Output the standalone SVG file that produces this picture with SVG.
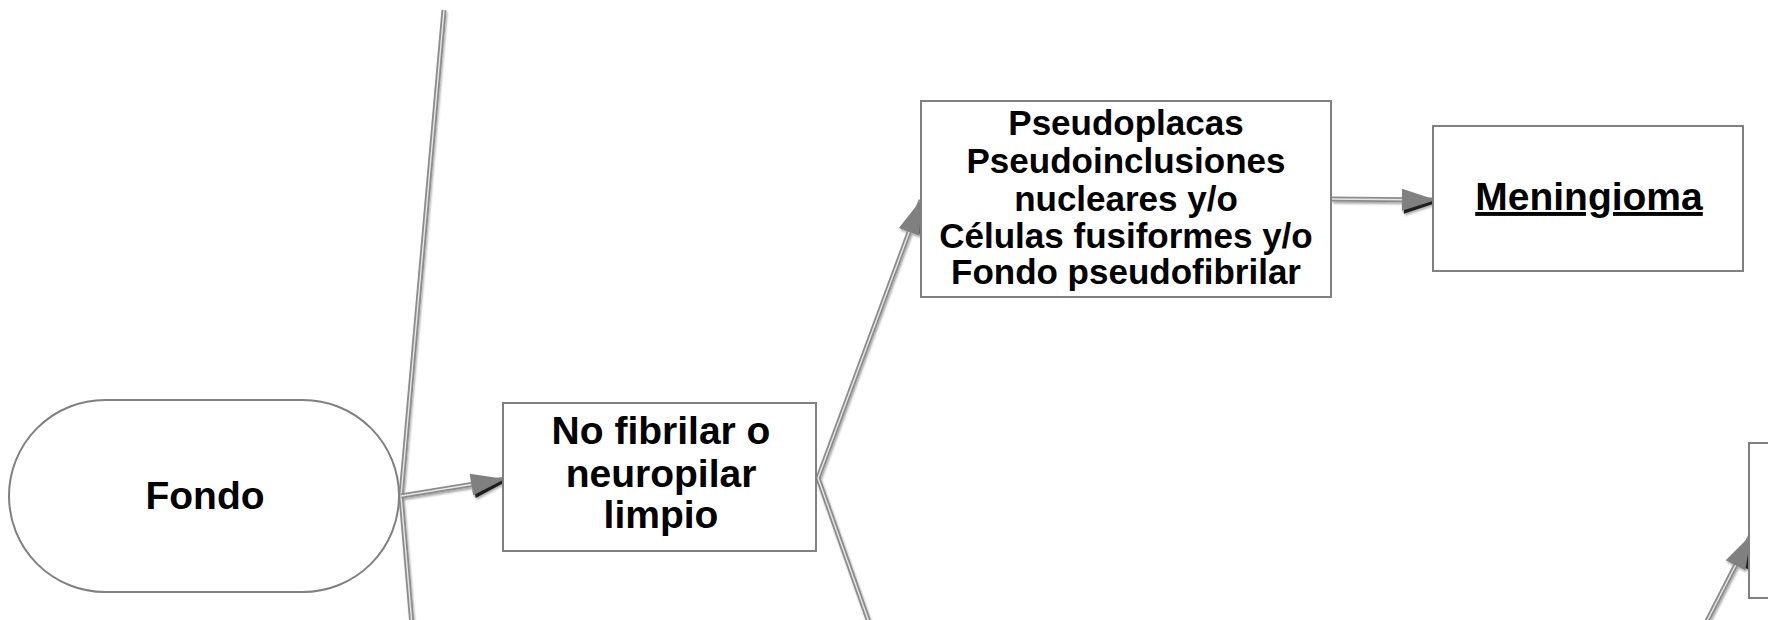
<svg xmlns="http://www.w3.org/2000/svg" width="1768" height="620" viewBox="0 0 1768 620">
<style>
.box{fill:#fff;stroke:#808080;stroke-width:2}
.t{font-family:"Liberation Sans",Arial,sans-serif;font-weight:bold;fill:#000;text-anchor:middle}
.outer{fill:none;stroke:#8c8c8c;stroke-width:5;stroke-linecap:butt}
.inner{fill:none;stroke:#e6e6e6;stroke-width:1.4}
</style>
<defs>
<filter id="sh" x="-20%" y="-20%" width="140%" height="140%">
<feDropShadow dx="1" dy="2" stdDeviation="1.2" flood-color="#000" flood-opacity="0.35"/>
</filter>
<marker id="ah" markerUnits="userSpaceOnUse" markerWidth="40" markerHeight="30" refX="34" refY="11" orient="auto" overflow="visible">
<path d="M2,3 L37,13 L2,25 z" fill="#111" opacity="0.9"/>
<path d="M0,0 L34,11 L0,22 z" fill="#808080"/>
</marker>
</defs>
<g id="connectors" filter="url(#sh)">
<path class="outer" d="M401,496 L444,10"/>
<path class="inner" d="M401,496 L444,10"/>
<path class="outer" d="M401,496 L412,625"/>
<path class="inner" d="M401,496 L412,625"/>
<path class="outer" d="M401,496 L505,479"/>
<path class="inner" d="M401,496 L505,479" marker-end="url(#ah)"/>
<path class="outer" d="M818,478 L921,200"/>
<path class="inner" d="M818,478 L921,200" marker-end="url(#ah)"/>
<path class="outer" d="M818,478 L870,625"/>
<path class="inner" d="M818,478 L870,625"/>
<path class="outer" d="M1332,199 L1436,200"/>
<path class="inner" d="M1332,199 L1436,200" marker-end="url(#ah)"/>
<path class="outer" d="M1705,625 L1751,535"/>
<path class="inner" d="M1705,625 L1751,535" marker-end="url(#ah)"/>
</g>
<g id="fondo">
<rect class="box" x="9" y="400" width="390" height="192" rx="96" ry="96"/>
<text class="t" x="205" y="509" font-size="39">Fondo</text>
</g>
<g id="no-fibrilar">
<rect class="box" x="503" y="403" width="313" height="148"/>
<text class="t" font-size="39"><tspan x="661" y="444">No fibrilar o</tspan><tspan x="661" y="487">neuropilar</tspan><tspan x="661" y="528">limpio</tspan></text>
</g>
<g id="pseudoplacas">
<rect class="box" x="921" y="101" width="410" height="196"/>
<text class="t" font-size="35"><tspan x="1126" y="135">Pseudoplacas</tspan><tspan x="1126" y="173">Pseudoinclusiones</tspan><tspan x="1126" y="211">nucleares y/o</tspan><tspan x="1126" y="248">Células fusiformes y/o</tspan><tspan x="1126" y="284">Fondo pseudofibrilar</tspan></text>
</g>
<g id="meningioma">
<rect class="box" x="1433" y="126" width="310" height="145"/>
<text class="t" x="1589" y="210" font-size="39" text-decoration="underline">Meningioma</text>
</g>
<g id="right-box">
<rect class="box" x="1749" y="443" width="40" height="155"/>
</g>
</svg>
